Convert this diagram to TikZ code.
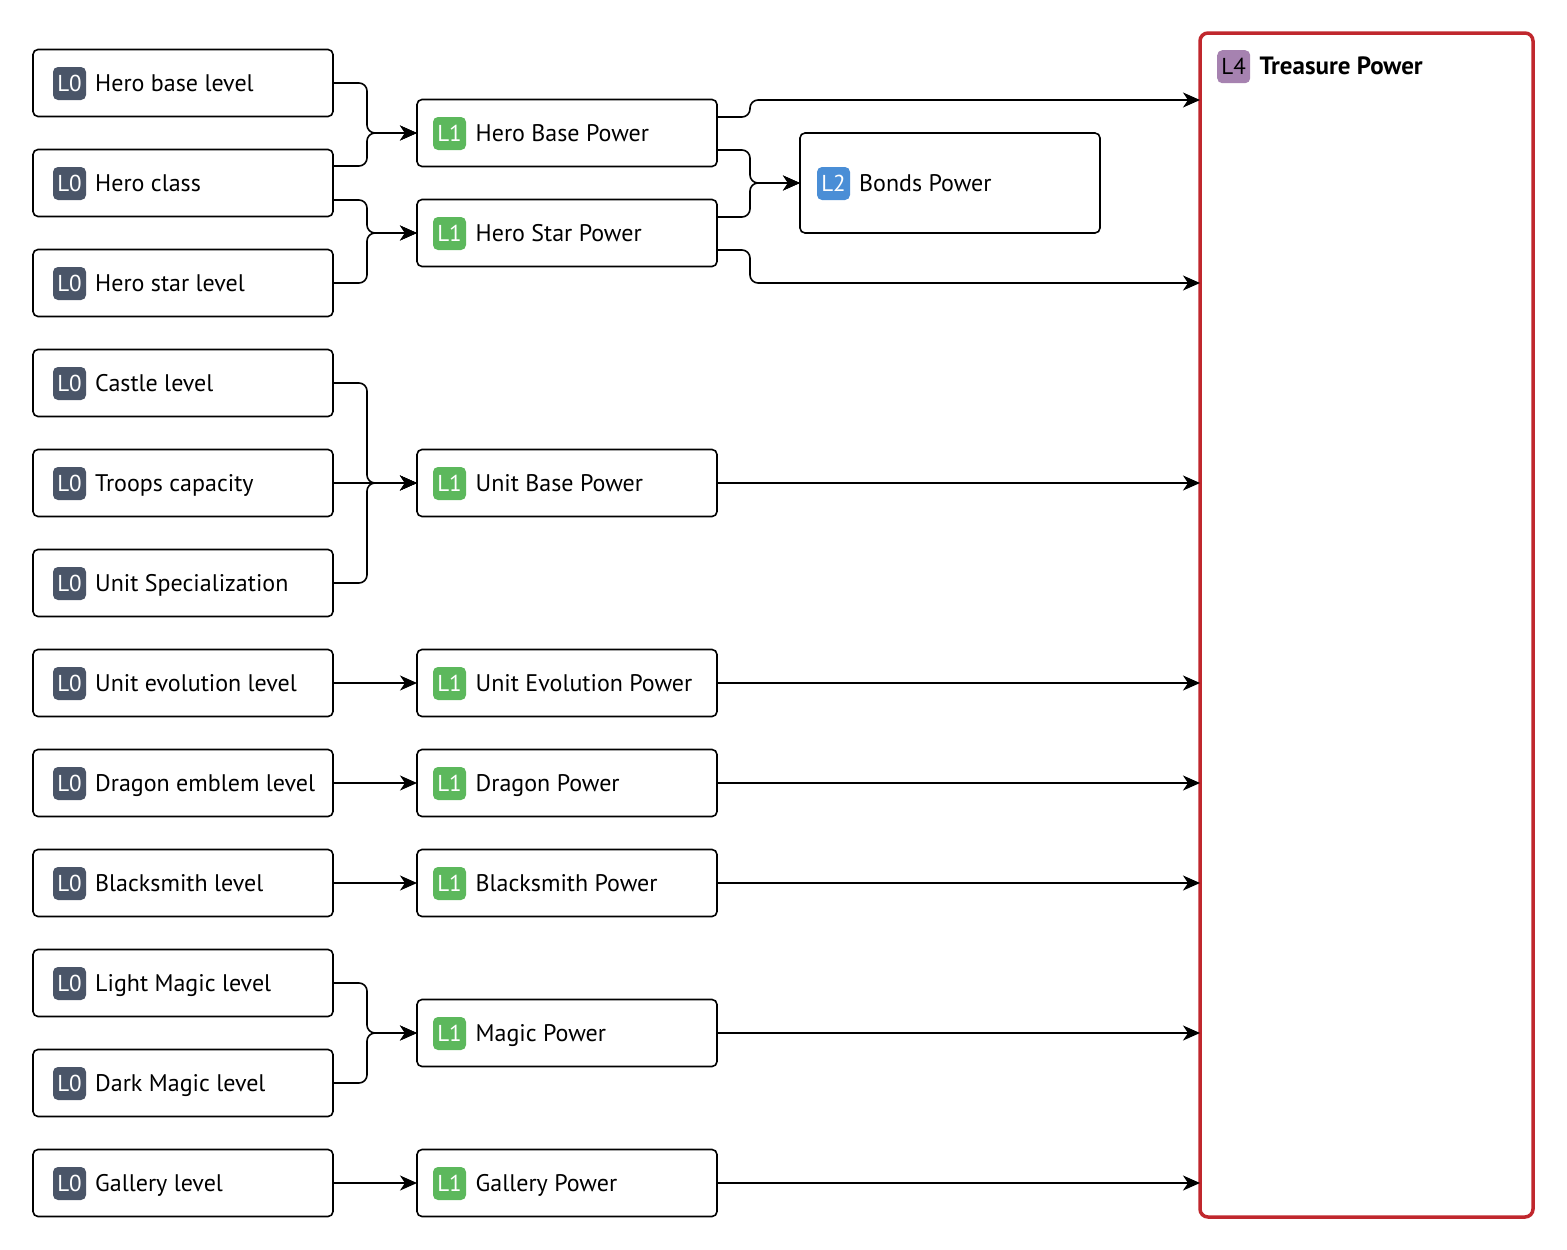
\documentclass[tikz,border=0pt]{standalone}
\usepackage{fontspec}
\setmainfont{PT Sans}
\usetikzlibrary{arrows.meta,calc}
\definecolor{czero}{HTML}{4A5568}
\definecolor{cone}{HTML}{5CB85C}
\definecolor{ctwo}{HTML}{4A8ED6}
\definecolor{cfour}{HTML}{A682B0}
\definecolor{cred}{HTML}{C0272D}
\tikzset{
  lbox/.style={draw=black, line width=1.6pt, rounded corners=5pt, minimum width=300pt, minimum height=67pt, inner sep=0pt, outer sep=0pt, fill=white},
  badge/.style={rounded corners=5pt, minimum width=33pt, minimum height=33pt, inner sep=0pt, text=white, font=\fontsize{23}{23}\selectfont},
  ltext/.style={anchor=base west, inner sep=0pt, font=\fontsize{24}{28}\selectfont},
  conn/.style={line width=1.6pt, rounded corners=8pt, -{Stealth[length=17pt,width=15pt,inset=5pt]}},
}
\newcommand\mynode[8]{% name, x, y, badge text, colour, label, badge offset, text offset
  \node[lbox] (#1) at (#2pt,#3pt) {};
  \node[badge, fill=#5] (#1b) at ([xshift=#7pt,yshift=-0.5pt]#1.west) {#4};
  \node[ltext] (#1t) at ([xshift=#8pt,yshift=-8pt]#1.west) {#6};
}
\begin{document}
\begin{tikzpicture}
\useasboundingbox (0,0) rectangle (1567pt,-1250pt);
% L0
\mynode{hbl}{183}{-83}{L0}{czero}{Hero base level}{36.5}{62}
\mynode{hc}{183}{-183}{L0}{czero}{Hero class}{36.5}{62}
\mynode{hsl}{183}{-283}{L0}{czero}{Hero star level}{36.5}{62}
\mynode{cl}{183}{-383}{L0}{czero}{Castle level}{36.5}{62}
\mynode{tc}{183}{-483}{L0}{czero}{Troops capacity}{36.5}{62}
\mynode{us}{183}{-583}{L0}{czero}{Unit Specialization}{36.5}{62}
\mynode{uel}{183}{-683}{L0}{czero}{Unit evolution level}{36.5}{62}
\mynode{del}{183}{-783}{L0}{czero}{Dragon emblem level}{36.5}{62}
\mynode{bl}{183}{-883}{L0}{czero}{Blacksmith level}{36.5}{62}
\mynode{lml}{183}{-983}{L0}{czero}{Light Magic level}{36.5}{62}
\mynode{dml}{183}{-1083}{L0}{czero}{Dark Magic level}{36.5}{62}
\mynode{gl}{183}{-1183}{L0}{czero}{Gallery level}{36.5}{62}
% L1
\mynode{hbp}{567}{-133}{L1}{cone}{Hero Base Power}{32.5}{58.5}
\mynode{hsp}{567}{-233}{L1}{cone}{Hero Star Power}{32.5}{58.5}
\mynode{ubp}{567}{-483}{L1}{cone}{Unit Base Power}{32.5}{58.5}
\mynode{uep}{567}{-683}{L1}{cone}{Unit Evolution Power}{32.5}{58.5}
\mynode{dp}{567}{-783}{L1}{cone}{Dragon Power}{32.5}{58.5}
\mynode{bp}{567}{-883}{L1}{cone}{Blacksmith Power}{32.5}{58.5}
\mynode{mp}{567}{-1033}{L1}{cone}{Magic Power}{32.5}{58.5}
\mynode{gp}{567}{-1183}{L1}{cone}{Gallery Power}{32.5}{58.5}
% L2
\node[lbox, minimum height=100pt] (bonds) at (950pt,-183pt) {};
\node[badge, fill=ctwo] (bondsb) at ([xshift=33.5pt,yshift=-0.5pt]bonds.west) {L2};
\node[ltext] (bondst) at ([xshift=59pt,yshift=-8pt]bonds.west) {Bonds Power};
% L4
\node[draw=cred, line width=3.5pt, rounded corners=8pt, minimum width=333pt, minimum height=1184pt, inner sep=0pt, outer sep=0pt] (tp) at (1366.5pt,-625pt) {};
\node[badge, fill=cfour, text=black, anchor=north west] (tpb) at ([xshift=17pt,yshift=-17pt]tp.north west) {L4};
\node[ltext, font=\fontsize{25}{29}\selectfont\bfseries] (tpt) at ([xshift=9pt,yshift=-8pt]tpb.east) {Treasure Power};
% connectors L0 -> L1
\draw[conn] (hbl.east) -- ++(34pt,0) |- (hbp.west);
\draw[conn] ([yshift=17pt]hc.east) -- ++(34pt,0) |- (hbp.west);
\draw[conn] ([yshift=-17pt]hc.east) -- ++(34pt,0) |- (hsp.west);
\draw[conn] (hsl.east) -- ++(34pt,0) |- (hsp.west);
\draw[conn] (cl.east) -- ++(34pt,0) |- (ubp.west);
\draw[conn] (tc.east) -- (ubp.west);
\draw[conn] (us.east) -- ++(34pt,0) |- (ubp.west);
\draw[conn] (uel.east) -- (uep.west);
\draw[conn] (del.east) -- (dp.west);
\draw[conn] (bl.east) -- (bp.west);
\draw[conn] (lml.east) -- ++(34pt,0) |- (mp.west);
\draw[conn] (dml.east) -- ++(34pt,0) |- (mp.west);
\draw[conn] (gl.east) -- (gp.west);
% L1 -> L2 / L4
\draw[conn] ([yshift=16pt]hbp.east) -- ++(33pt,0) |- ([yshift=33pt]hbp.east -| tp.west);
\draw[conn] ([yshift=-17pt]hbp.east) -- ++(33pt,0) |- (bonds.west);
\draw[conn] ([yshift=16pt]hsp.east) -- ++(33pt,0) |- (bonds.west);
\draw[conn] ([yshift=-17pt]hsp.east) -- ++(33pt,0) |- ([yshift=-50pt]hsp.east -| tp.west);
\draw[conn] (ubp.east) -- (ubp.east -| tp.west);
\draw[conn] (uep.east) -- (uep.east -| tp.west);
\draw[conn] (dp.east) -- (dp.east -| tp.west);
\draw[conn] (bp.east) -- (bp.east -| tp.west);
\draw[conn] (mp.east) -- (mp.east -| tp.west);
\draw[conn] (gp.east) -- (gp.east -| tp.west);
\end{tikzpicture}
\end{document}
